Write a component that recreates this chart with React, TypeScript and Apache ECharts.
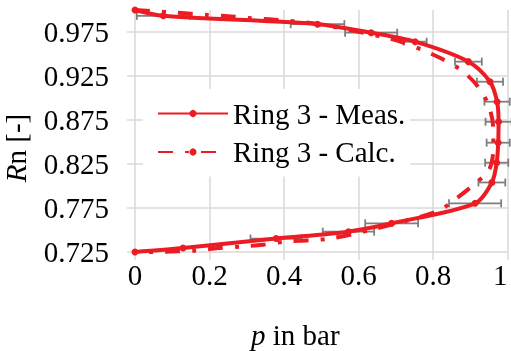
import React, { useEffect, useRef } from 'react';
import * as echarts from 'echarts';

// Measured series (Ring 3 - Meas.)
const measX = [0, 0.076, 0.49, 0.634, 0.752, 0.895, 0.953, 0.972, 0.976, 0.975, 0.971, 0.958, 0.913, 0.689, 0.573, 0.379, 0.129, 0];
const measY = [1.0, 0.9934, 0.9839, 0.9742, 0.964, 0.9413, 0.9185, 0.8958, 0.873, 0.8492, 0.8265, 0.804, 0.7803, 0.7576, 0.7481, 0.7403, 0.7295, 0.725];
const measErr = [0, 0.071, 0.072, 0.07, 0.031, 0.036, 0.035, 0.034, 0.035, 0.031, 0.031, 0.036, 0.07, 0.071, 0.069, 0.069, 0, 0];

// Calculated series (Ring 3 - Calc.)
const calcX = [0, 0.134, 0.194, 0.25, 0.312, 0.37, 0.49, 0.662, 0.72, 0.776, 0.824, 0.879, 0.921, 0.95, 0.962, 0.962, 0.95, 0.905, 0.859, 0.811, 0.636, 0.518, 0.403, 0.344, 0.285, 0.223, 0.164, 0.115, 0];
const calcY = [1.0, 0.9962, 0.9943, 0.993, 0.9906, 0.9892, 0.984, 0.9697, 0.963, 0.9538, 0.9445, 0.9307, 0.9128, 0.891, 0.8636, 0.8432, 0.818, 0.8, 0.7847, 0.771, 0.7506, 0.74, 0.7369, 0.7333, 0.7311, 0.7295, 0.7267, 0.7258, 0.7245];

const yTicks = [0.725, 0.775, 0.825, 0.875, 0.925, 0.975];
const legendNames = ['Ring 3 - Meas.', 'Ring 3 - Calc.'];

export default function App() {
  const ref = useRef<HTMLDivElement>(null);
  useEffect(() => {
    const chart = echarts.init(ref.current!, null, { renderer: 'svg' });
    const font = "'Liberation Serif', 'Times New Roman', serif";
    const red = '#ec1c24';
    const grid = '#d9d9d9';
    const meas = measX.map((x, i) => [x, measY[i]]);
    const calc = calcX.map((x, i) => [x, calcY[i]]);
    const err = measX.map((x, i) => [x, measY[i], measErr[i]]).filter((d) => d[2] > 0);
    chart.setOption({
      animation: false,
      textStyle: { fontFamily: font, color: '#000' },
      grid: { left: 135, top: 10, width: 372.5, height: 242, outerBoundsMode: 'none', containLabel: false },
      legend: {
        data: legendNames,
        orient: 'vertical',
        left: 143,
        top: 89,
        padding: [10, 5, 10, 14],
        backgroundColor: '#ffffff',
        itemWidth: 70,
        itemHeight: 9,
        itemGap: 9.5,
        textStyle: { fontFamily: font, fontSize: 29, color: '#000', lineHeight: 29 },
      },
      xAxis: {
        type: 'value',
        min: 0,
        max: 1,
        interval: 0.2,
        axisLine: { show: false },
        axisTick: { show: true, length: 8, lineStyle: { color: grid, width: 1.5 } },
        splitLine: { show: true, lineStyle: { color: grid, width: 1.5 } },
        axisLabel: { fontFamily: font, fontSize: 29, color: '#000', margin: 8, alignMaxLabel: 'right' },
        name: '{i|p} in bar',
        nameLocation: 'middle',
        nameGap: 68,
        nameTextStyle: {
          fontFamily: font, fontSize: 29, color: '#000',
          padding: [0, 52, 0, 0],
          rich: { i: { fontFamily: font, fontSize: 29, fontStyle: 'italic', color: '#000' } },
        },
      },
      yAxis: {
        type: 'value',
        min: 0.725,
        max: 1.0,
        axisLine: { show: false },
        axisTick: { show: true, length: 8, customValues: yTicks, lineStyle: { color: grid, width: 1.5 } },
        splitLine: { show: true, lineStyle: { color: grid, width: 1.5 } },
        axisLabel: {
          customValues: yTicks,
          fontFamily: font, fontSize: 29, color: '#000', margin: 26,
          formatter: (v: number) => v.toFixed(3),
        },
        name: '{i|R}n [-]',
        nameLocation: 'middle',
        nameRotate: 90,
        nameGap: 105,
        nameTextStyle: {
          fontFamily: font, fontSize: 29, color: '#000',
          padding: [0, 34, 0, 0],
          rich: { i: { fontFamily: font, fontSize: 29, fontStyle: 'italic', color: '#000' } },
        },
      },
      series: [
        {
          type: 'custom',
          z: 1,
          silent: true,
          clip: false,
          data: err,
          encode: { x: 0, y: 1 },
          renderItem: (params: any, api: any) => {
            const x = api.value(0);
            const y = api.value(1);
            const e = api.value(2);
            const p1 = api.coord([x - e, y]);
            const p2 = api.coord([x + e, y]);
            const h = 4;
            const st = { stroke: '#7f7f7f', lineWidth: 1.8 };
            return {
              type: 'group',
              children: [
                { type: 'line', shape: { x1: p1[0], y1: p1[1], x2: p2[0], y2: p2[1] }, style: st },
                { type: 'line', shape: { x1: p1[0], y1: p1[1] - h, x2: p1[0], y2: p1[1] + h }, style: st },
                { type: 'line', shape: { x1: p2[0], y1: p2[1] - h, x2: p2[0], y2: p2[1] + h }, style: st },
              ],
            };
          },
        },
        {
          name: legendNames[0],
          type: 'line',
          data: meas,
          smooth: 0.3,
          symbol: 'circle',
          symbolSize: 7,
          z: 3,
          lineStyle: { color: red, width: 4 },
          itemStyle: { color: red },
        },
        {
          name: legendNames[1],
          type: 'line',
          data: calc,
          smooth: 0.3,
          symbol: 'none',
          z: 2,
          lineStyle: { color: red, width: 4, type: [15, 12, 4, 12] },
          itemStyle: { color: red },
        },
      ],
    });
    return () => chart.dispose();
  }, []);
  return <div ref={ref} style={{ position: 'fixed', left: 0, top: 0, width: 511, height: 351 }} />;
}
